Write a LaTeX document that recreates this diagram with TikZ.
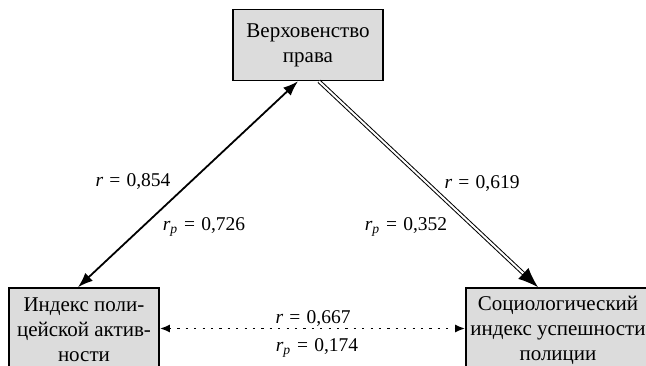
\documentclass[tikz,border=0pt]{standalone}
\usepackage{fontspec}
\setmainfont{Liberation Serif}
\usepackage{tikz}
\usetikzlibrary{arrows.meta,positioning}
\usepackage{xcolor}
\definecolor{boxgray}{HTML}{DCDCDC}
\newcommand{\eqsp}{\hspace{0.32em}=\hspace{0.32em}}

\begin{document}
\begin{tikzpicture} [
    x = 1pt, y = -1pt,
    box/.style = { draw, line width = 1.6pt, fill = boxgray, align = center, inner sep = 0,
                   font = \fontsize{21}{25}\selectfont },
    coef/.style = { font = \fontsize{19.5}{22}\selectfont, inner sep = 0 },
    solidarr/.style = { line width = 1.8pt, {Latex[length=15pt,width=11pt]}-{Latex[length=15pt,width=11pt]} },
    dblarr/.style = { double, line width = 1pt, double distance = 2pt, -{Latex[length=20pt,width=15pt]} },
    dotarr/.style = { line width = 1.8pt, dash pattern = on 2.2pt off 6.2pt,
                      {Latex[length=10pt,width=8pt]}-{Latex[length=10pt,width=8pt]} }
    ]
    \useasboundingbox (0,0) rectangle (646,366);

    \node [box, minimum width = 150pt, minimum height = 71pt] (rule) at (308,45) {Верховенство\\права};
    \node [box, minimum width = 150pt, minimum height = 84pt] (activity) at (84,330) {Индекс поли-\\цейской актив-\\ности};
    \node [box, minimum width = 184pt, minimum height = 84pt] (success) at (558,330) {Социологический\\индекс успешности\\полиции};

    \draw [solidarr] ([xshift=-6pt]activity.north) -- ([xshift=-10pt]rule.south);
    \draw [dblarr] ([xshift=11pt]rule.south) -- ([xshift=-20pt]success.north);
    \draw [dotarr] ([yshift=1.5pt]activity.east) -- ([yshift=1.5pt]success.west);

    \node [coef] (r1) at (133,182) {\textit{r}\eqsp0,854};
    \node [coef] (rp1) at (204,227) {\textit{r}\textsubscript{\textit{p}}\eqsp0,726};
    \node [coef] (r2) at (482,184) {\textit{r}\eqsp0,619};
    \node [coef] (rp2) at (406,227) {\textit{r}\textsubscript{\textit{p}}\eqsp0,352};
    \node [coef] (r3) at (313,319) {\textit{r}\eqsp0,667};
    \node [coef] (rp3) at (317,348) {\textit{r}\textsubscript{\textit{p}}\eqsp0,174};

\end{tikzpicture}
\end{document}
